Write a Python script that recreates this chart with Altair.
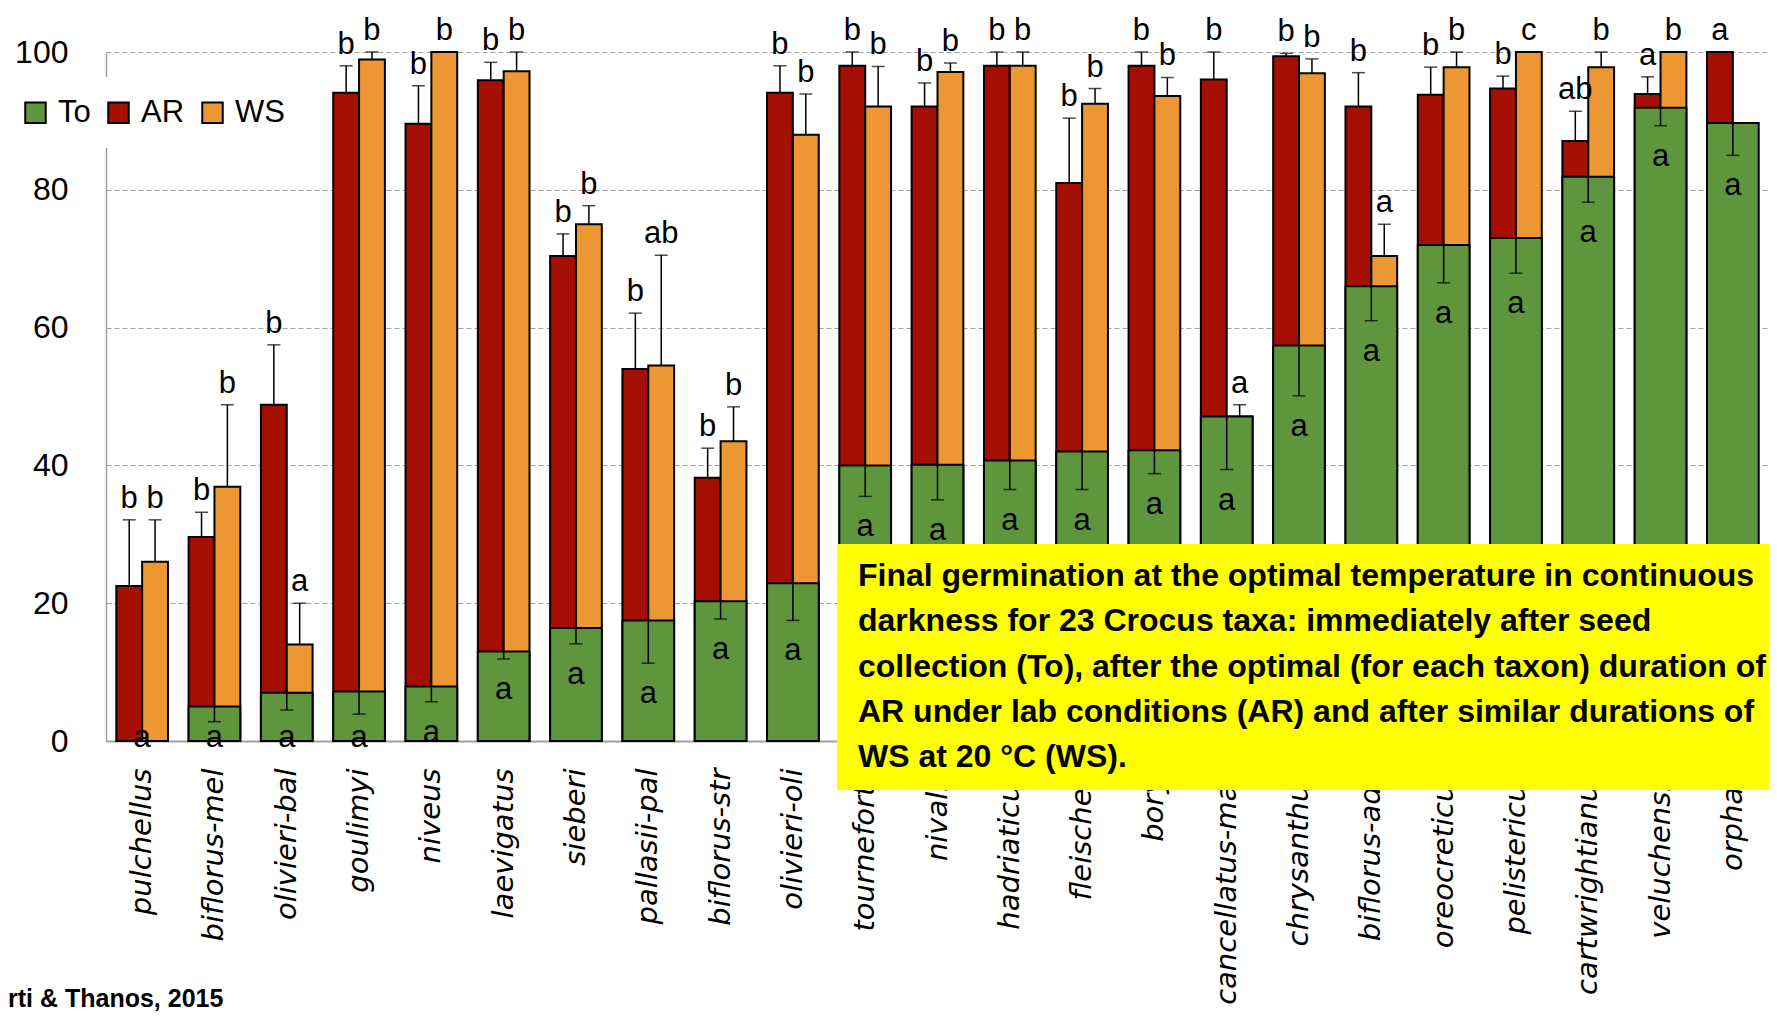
import altair as alt
import pandas as pd

# ---------------- data ----------------
taxa = ["pulchellus", "biflorus-mel", "olivieri-bal", "goulimyi", "niveus",
        "laevigatus", "sieberi", "pallasii-pal", "biflorus-str", "olivieri-oli",
        "tournefortii", "nivalis", "hadriaticus", "fleischeri", "boryi",
        "cancellatus-maz", "chrysanthus", "biflorus-ada", "oreocreticus",
        "pelistericus", "cartwrightianus", "veluchensis", "orphan"]

to_vals = [0.0, 5.0, 7.0, 7.2, 7.9, 13.0, 16.4, 17.5, 20.3, 22.9, 40.0, 40.1,
           40.7, 42.0, 42.2, 47.1, 57.4, 66.0, 72.0, 73.0, 81.9, 91.9, 89.7]
to_err = [0.0, 2.2, 2.5, 3.3, 2.2, 1.1, 2.3, 6.2, 2.6, 5.4, 4.5, 5.1,
          4.2, 5.5, 3.4, 7.7, 7.3, 5.0, 5.5, 5.1, 3.7, 2.6, 4.7]
ar_vals = [22.5, 29.6, 48.8, 94.1, 89.6, 95.9, 70.4, 54.0, 38.2, 94.1, 98.0, 92.1,
           98.0, 81.0, 98.0, 96.0, 99.4, 92.1, 93.8, 94.7, 87.1, 93.9, 100.0]
ar_err = [9.6, 3.6, 8.7, 3.9, 5.5, 2.6, 3.2, 8.1, 4.3, 3.9, 2.0, 3.4,
          2.0, 9.4, 2.0, 4.0, 0.4, 4.9, 4.0, 1.8, 4.3, 2.5, 0.0]
ws_vals = [26.0, 36.9, 14.0, 98.9, 100.0, 97.2, 75.0, 54.5, 43.5, 88.0, 92.1, 97.1,
           98.0, 92.5, 93.6, 47.1, 96.9, 70.4, 97.8, 100.0, 97.8, 100.0, None]
ws_err = [6.1, 11.9, 6.0, 1.1, 0.0, 2.8, 2.7, 16.0, 5.0, 5.9, 5.8, 1.3,
          2.0, 2.2, 2.7, 1.7, 2.1, 4.6, 2.2, 0.0, 2.2, 0.0, None]

to_sig = ["a"] * 23
ar_sig = ["b"] * 20 + ["ab", "a", "a"]
ws_sig = ["b", "b", "a", "b", "b", "b", "b", "ab", "b", "b", "b", "b",
          "b", "b", "b", "a", "b", "a", "b", "c", "b", "b", ""]

series_names = ["To", "AR", "WS"]
series_colors = ["#5F963D", "#A50E03", "#EC9733"]

note_lines = [
    "Final germination at the optimal temperature in continuous",
    "darkness for 23 Crocus taxa: immediately after seed",
    "collection (To), after the optimal (for each taxon) duration of",
    "AR under lab conditions (AR) and after similar durations of",
    "WS at 20 \u00b0C (WS).",
]
credit = "rti & Thanos, 2015"

# ---------------- tables ----------------
to_df = pd.DataFrame({"taxon": taxa, "series": "To", "value": to_vals,
                      "err": to_err, "sig": to_sig})
to_df["end"] = to_df["value"] - to_df["err"]
to_df["label_pos"] = (to_df["end"] - 4.5).clip(lower=0.5)

ar_df = pd.DataFrame({"taxon": taxa, "series": "AR", "value": ar_vals,
                      "err": ar_err, "sig": ar_sig})
ws_df = pd.DataFrame({"taxon": taxa, "series": "WS", "value": ws_vals,
                      "err": ws_err, "sig": ws_sig})
pair_df = pd.concat([ar_df, ws_df], ignore_index=True).dropna(subset=["value"])
pair_df["end"] = pair_df["value"] + pair_df["err"]

# ---------------- encodings ----------------
X = alt.X("taxon:N", sort=taxa, title=None,
          scale=alt.Scale(paddingInner=0.285, paddingOuter=0.1425),
          axis=alt.Axis(labelAngle=-90, ticks=False, labelPadding=27,
                        labelFont="DejaVu Sans", labelFontStyle="italic",
                        labelFontSize=29, labelColor="black", labelLimit=500,
                        labelOverlap=False, domainColor="#A0A0A0",
                        domainWidth=2, grid=False))
XO = alt.XOffset("series:N", sort=["AR", "WS"],
                 scale=alt.Scale(domain=["AR", "WS"], paddingInner=0,
                                 paddingOuter=0))
YSCALE = alt.Scale(domain=[0, 100], nice=False)
YAXIS = alt.Axis(values=[0, 20, 40, 60, 80, 100], title=None, ticks=False,
                 labelPadding=38, labelFont="Liberation Sans",
                 labelFontSize=32, labelColor="black",
                 domainColor="#A0A0A0", domainWidth=1.5,
                 grid=True, gridDash=[5, 3], gridColor="#A0A0A0",
                 gridWidth=1)


def Yf(field):
    return alt.Y(f"{field}:Q", scale=YSCALE, axis=YAXIS, title=None)


COLOR = alt.Color("series:N",
                  scale=alt.Scale(domain=series_names, range=series_colors),
                  legend=alt.Legend(orient="none", legendX=-106, legendY=25,
                                    direction="horizontal", title=None,
                                    symbolType="square", symbolSize=420,
                                    symbolStrokeColor="black",
                                    symbolStrokeWidth=2, symbolOpacity=1,
                                    labelFont="Liberation Sans",
                                    labelFontSize=31, labelColor="black",
                                    labelOffset=7, columnPadding=12,
                                    fillColor="white", padding=20))

TEXT_FONT = "Liberation Sans"

bars_pair = alt.Chart(pair_df).mark_bar(stroke="black", strokeWidth=2).encode(
    x=X, xOffset=XO, y=Yf("value"), color=COLOR)

bars_to = alt.Chart(to_df[to_df["value"] > 0]).mark_bar(
    stroke="black", strokeWidth=2).encode(x=X, y=Yf("value"), color=COLOR)

pair_e = pair_df[pair_df["err"] > 0]
err_pair = alt.Chart(pair_e).mark_rule(color="black", strokeWidth=1.5).encode(
    x=X, xOffset=XO, y=Yf("value"), y2="end:Q")
cap_pair = alt.Chart(pair_e).mark_tick(color="black", thickness=1.5, size=13,
                                       orient="horizontal").encode(
    x=X, xOffset=XO, y=Yf("end"))

to_e = to_df[to_df["err"] > 0]
err_to = alt.Chart(to_e).mark_rule(color="black", strokeWidth=1.5).encode(
    x=X, y=Yf("end"), y2="value:Q")
cap_to = alt.Chart(to_e).mark_tick(color="black", thickness=1.5, size=13,
                                   orient="horizontal").encode(
    x=X, y=Yf("end"))

lab_pair = alt.Chart(pair_df[pair_df["sig"] != ""]).mark_text(
    baseline="alphabetic", dy=-12, font=TEXT_FONT, fontSize=31,
    color="black").encode(x=X, xOffset=XO, y=Yf("end"), text="sig:N")

lab_to = alt.Chart(to_df).mark_text(
    baseline="middle", font=TEXT_FONT, fontSize=31, color="black").encode(
    x=X, y=Yf("label_pos"), text="sig:N")

one = pd.DataFrame({"k": [0]})
note_box = alt.Chart(one).mark_rect(color="#FFFF00").encode(
    x=alt.value(731), x2=alt.value(1700), y=alt.value(492), y2=alt.value(738))
note_text = alt.Chart(one).mark_text(
    align="left", baseline="alphabetic", font=TEXT_FONT, fontWeight="bold",
    fontSize=32, lineHeight=45.3, color="black").encode(
    x=alt.value(752), y=alt.value(534), text=alt.value(note_lines))
credit_text = alt.Chart(one).mark_text(
    align="left", baseline="alphabetic", font=TEXT_FONT, fontWeight="bold",
    fontSize=25, color="black").encode(
    x=alt.value(-98), y=alt.value(955), text=alt.value(credit))

chart = alt.layer(
    bars_pair, bars_to, err_pair, cap_pair, err_to, cap_to,
    lab_pair, lab_to, note_box, note_text, credit_text
).properties(
    width=1663, height=689,
    padding={"left": 98, "top": 44, "right": 0, "bottom": 270},
    autosize=alt.AutoSizeParams(type="none"),
    background="white",
).configure_view(stroke=None)

chart.save("out.html", embed_options={"renderer": "svg", "actions": False})
